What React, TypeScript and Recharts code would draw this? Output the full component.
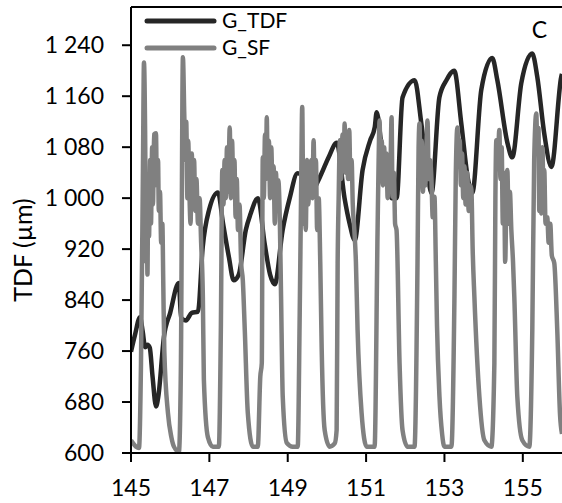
import React from "react";
import { LineChart, Line, XAxis, YAxis, ReferenceLine } from "recharts";

// G_TDF trace (black)
const tdfX = [
  145.0, 145.1, 145.23, 145.3, 145.36, 145.42, 145.48, 145.55, 145.64, 145.7, 145.84, 146.0,
  146.22, 146.28, 146.4, 146.55, 146.71, 146.83, 146.99, 147.22, 147.35, 147.5, 147.62, 147.75,
  147.93, 148.05, 148.24, 148.41, 148.55, 148.67, 148.87, 149.05, 149.25, 149.45, 149.6, 149.82,
  150.05, 150.25, 150.45, 150.58, 150.71, 150.91, 151.1, 151.22, 151.27, 151.4, 151.52, 151.65,
  151.78, 151.93, 152.24, 152.41, 152.55, 152.67, 152.87, 153.05, 153.25, 153.43, 153.6, 153.71,
  153.94, 154.22, 154.35, 154.61, 154.73, 154.96, 155.24, 155.37, 155.55, 155.73, 155.98, 156.0,
];
const tdfY = [
  759, 785, 813, 790, 766, 770, 765, 720, 673, 690, 782, 820,
  867, 812, 808, 820, 822, 923, 981, 1009, 960, 907, 871, 880,
  950, 975, 1000, 929, 880, 865, 950, 1000, 1039, 1030, 1010, 1033,
  1065, 1087, 1000, 960, 934, 1044, 1090, 1111, 1135, 1080, 1050, 1000,
  1000, 1158, 1185, 1117, 1050, 1008, 1158, 1185, 1200, 1117, 1030, 1008,
  1170, 1220, 1185, 1086, 1064, 1180, 1227, 1190, 1100, 1049, 1190, 1195,
];

// G_SF trace (grey)
const sfX = [
  145.0, 145.127, 145.204, 145.255, 145.306, 145.331, 145.36, 145.385, 145.4, 145.42, 145.44,
  145.46, 145.49, 145.51, 145.54, 145.56, 145.59, 145.637, 145.66, 145.69, 145.71, 145.74,
  145.77, 145.8, 145.825, 145.85, 145.943, 146.03, 146.096, 146.223, 146.274,
  146.325, 146.36, 146.39, 146.41, 146.44, 146.46, 146.49, 146.52, 146.55, 146.58, 146.61,
  146.64, 146.67, 146.71, 146.75, 146.79, 146.834, 146.86, 146.962, 147.089, 147.242,
  147.293, 147.33, 147.36, 147.39, 147.42, 147.45, 147.48, 147.52, 147.55, 147.58, 147.61,
  147.64, 147.67, 147.7, 147.73, 147.77, 147.81, 147.854, 147.904, 147.981, 148.108, 148.236,
  148.3, 148.338, 148.363, 148.39, 148.42, 148.445, 148.465, 148.49, 148.52, 148.55, 148.58,
  148.61, 148.64, 148.67, 148.7, 148.73, 148.76, 148.8, 148.83, 148.873, 148.975, 149.127,
  149.255, 149.306, 149.34, 149.37, 149.4, 149.43, 149.46, 149.49, 149.52, 149.56, 149.6,
  149.63, 149.66, 149.69, 149.72, 149.75, 149.79, 149.83, 149.866, 149.943, 150.07, 150.2,
  150.248, 150.274, 150.3, 150.33, 150.36, 150.4, 150.43, 150.452, 150.48, 150.51, 150.54,
  150.57, 150.6, 150.63, 150.66, 150.7, 150.74, 150.783, 150.885, 151.013, 151.217,
  151.293, 151.32, 151.344, 151.37, 151.4, 151.43, 151.46, 151.49, 151.52, 151.55, 151.58,
  151.62, 151.65, 151.675, 151.71, 151.74, 151.777, 151.854, 151.93, 152.057, 152.236,
  152.312, 152.34, 152.363, 152.39, 152.42, 152.45, 152.48, 152.51, 152.54, 152.567, 152.6,
  152.63, 152.669, 152.7, 152.745, 152.78, 152.81, 152.873, 152.94, 153.0, 153.178,
  153.255, 153.29, 153.331, 153.36, 153.39, 153.42, 153.45, 153.48, 153.51, 153.54, 153.58,
  153.62, 153.66, 153.688, 153.72, 153.764, 153.892, 154.019, 154.197,
  154.274, 154.3, 154.325, 154.36, 154.401, 154.43, 154.46, 154.49, 154.52, 154.55, 154.58,
  154.605, 154.64, 154.67, 154.707, 154.75, 154.783, 154.86, 154.987, 155.166,
  155.242, 155.29, 155.344, 155.37, 155.4, 155.42, 155.45, 155.471, 155.5, 155.53, 155.548,
  155.58, 155.624, 155.66, 155.7, 155.74, 155.803, 155.879, 155.95, 156.0,
];
const sfY = [
  620, 610, 608, 741, 1055, 1213, 1107, 900, 1010, 880, 1030,
  940, 1060, 960, 1080, 990, 1100, 1102, 1020, 1060, 980, 1010,
  930, 960, 860, 760, 663, 625, 610, 602, 741,
  1221, 1130, 1060, 1120, 1000, 1090, 1010, 960, 1070, 1020, 1060,
  980, 1030, 960, 1000, 930, 845, 715, 625, 610, 610,
  793, 1044, 990, 1060, 1000, 1080, 1010, 1111, 1000, 1090, 1020,
  1060, 970, 1030, 950, 990, 900, 871, 793, 663, 610, 610,
  720, 741, 1064, 1000, 1100, 1030, 1127, 1040, 1090, 1000, 1080,
  1020, 1050, 960, 1040, 990, 1028, 960, 845, 688, 616, 610,
  610, 820, 1002, 1143, 960, 1050, 950, 1060, 990, 1028, 1060,
  1000, 1091, 1010, 1060, 950, 1000, 900, 766, 636, 610, 615,
  636, 898, 1000, 1091, 1030, 1100, 1050, 1117, 1040, 1090, 1030,
  1107, 1030, 1060, 990, 950, 900, 793, 663, 610, 610,
  950, 1060, 1122, 1040, 1090, 1020, 1080, 1040, 1070, 1000, 1060,
  1050, 1127, 1002, 1040, 960, 950, 741, 636, 610, 610,
  898, 1080, 1117, 1040, 1090, 1010, 1070, 1020, 1080, 1122, 1030,
  1060, 1028, 970, 1002, 900, 800, 688, 630, 610, 610,
  845, 1040, 1111, 1050, 1091, 1020, 1070, 1000, 1050, 990, 1040,
  980, 1020, 1013, 920, 845, 688, 620, 610,
  741, 1000, 1091, 1060, 1107, 1030, 1080, 960, 1040, 900, 1000,
  1044, 960, 1010, 950, 900, 845, 688, 620, 610,
  793, 1060, 1133, 1080, 1110, 980, 1060, 976, 1080, 990, 1044,
  960, 970, 930, 960, 910, 898, 793, 660, 630,
];

const xTicks = [145, 147, 149, 151, 153, 155];
const yTicks = [600, 680, 760, 840, 920, 1000, 1080, 1160, 1240];
const seriesNames = ["G_TDF", "G_SF"];

const tdfData = tdfX.map((x, i) => ({ x, y: tdfY[i] }));
const sfData = sfX.map((x, i) => ({ x, y: sfY[i] }));

const FONT = "Lato, 'Open Sans', sans-serif";
const BLACK = "#262626";
const GREY = "#808080";

const fmt = (v: number) =>
  v >= 1000 ? `${Math.floor(v / 1000)} ${String(v % 1000).padStart(3, "0")}` : String(v);

export default function App() {
  return (
    <div style={{ position: "absolute", left: 0, top: 0, background: "#fff" }}>
      <LineChart width={562} height={503} margin={{ top: 7, right: 0, bottom: 0, left: 0 }}>
        <XAxis dataKey="x" type="number" domain={[145, 156]} ticks={xTicks} allowDataOverflow
          height={50} tickSize={9} tickMargin={18} axisLine={{ stroke: "#000", strokeWidth: 2 }}
          tickLine={{ stroke: "#000", strokeWidth: 2 }}
          tick={{ fill: "#000", fontSize: 23, fontFamily: FONT }} />
        <YAxis type="number" domain={[600, 1300]} ticks={yTicks} allowDataOverflow width={131}
          tickSize={9} tickMargin={18} tickFormatter={fmt} axisLine={{ stroke: "#000", strokeWidth: 2 }}
          tickLine={{ stroke: "#000", strokeWidth: 2 }}
          tick={{ fill: "#000", fontSize: 23, fontFamily: FONT }} />
        <ReferenceLine y={1300} stroke="#000" strokeWidth={2}
          label={{ value: "C", position: "insideTopRight", offset: 15, fontSize: 23, fontFamily: FONT, fill: "#000" }} />
        <Line data={tdfData} dataKey="y" name="G_TDF" type="monotone" stroke={BLACK} strokeWidth={4.5}
          dot={false} isAnimationActive={false} />
        <Line data={sfData} dataKey="y" name="G_SF" type="monotone" stroke={GREY} strokeWidth={4.5}
          dot={false} isAnimationActive={false} />
        {seriesNames.map((name, i) => (
          <g key={name}>
            <line x1={147} x2={214} y1={21 + i * 27} y2={21 + i * 27} stroke={i === 0 ? BLACK : GREY}
              strokeWidth={5} strokeLinecap="round" />
            <text x={222} y={21 + i * 27} dy="0.35em" fontSize={21} fontFamily={FONT} fill="#000">{name}</text>
          </g>
        ))}
        <text x={32} y={250} transform="rotate(-90 32 250)" textAnchor="middle" fontSize={25}
          fontFamily={FONT} fill="#000">TDF (µm)</text>
      </LineChart>
    </div>
  );
}
